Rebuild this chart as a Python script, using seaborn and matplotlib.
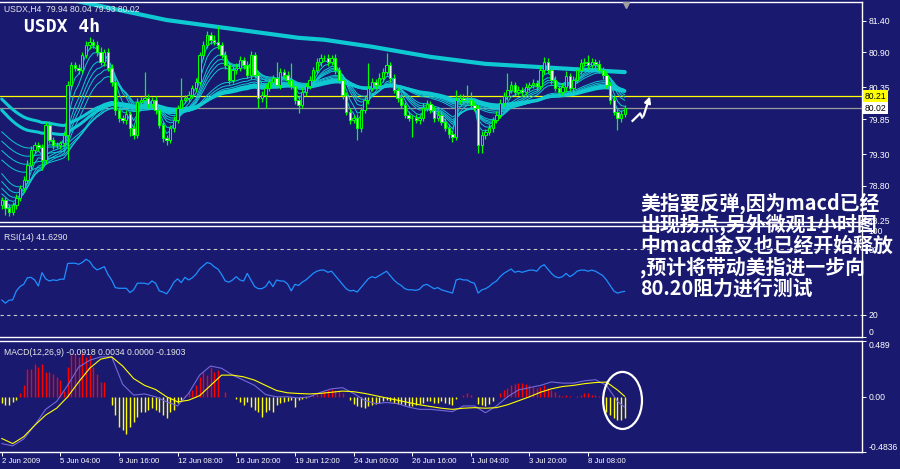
import numpy as np
import pandas as pd
import matplotlib
matplotlib.use("Agg")
import matplotlib.pyplot as plt
import matplotlib.transforms as mtransforms
from matplotlib.patches import Ellipse
import seaborn as sns

# ---------------- data (USDX, H4) ----------------
first_open = 78.50
closes = [
    78.58, 78.45, 78.39, 78.50, 78.61, 78.76, 78.89, 79.13, 79.36, 79.44,
    79.41, 79.21, 79.76, 79.52, 79.44, 79.44, 79.47, 79.60, 80.39, 80.70,
    80.66, 80.62, 80.86, 81.02, 81.06, 81.02, 80.91, 80.75, 80.91, 80.66,
    80.43, 79.99, 79.87, 79.84, 79.93, 79.71, 79.60, 80.12, 80.15, 80.18,
    80.09, 80.15, 79.99, 79.76, 79.55, 79.52, 79.71, 79.84, 80.03, 80.15,
    80.18, 80.23, 80.34, 80.43, 80.86, 81.02, 81.17, 81.10, 81.06, 81.02,
    80.86, 80.70, 80.47, 80.62, 80.66, 80.78, 80.70, 80.54, 80.86, 80.54,
    80.18, 80.23, 80.34, 80.43, 80.50, 80.39, 80.59, 80.54, 80.47, 80.37,
    80.15, 80.07, 80.28, 80.37, 80.47, 80.62, 80.75, 80.81, 80.81, 80.75,
    80.81, 80.62, 80.47, 80.23, 79.96, 79.84, 79.87, 79.71, 79.99, 80.15,
    80.34, 80.43, 80.39, 80.50, 80.59, 80.70, 80.50, 80.31, 80.18, 80.07,
    79.92, 79.87, 79.87, 79.84, 79.87, 80.03, 80.09, 79.99, 79.87, 79.92,
    79.81, 79.71, 79.62, 79.57, 80.15, 80.18, 80.15, 80.15, 80.07, 80.03,
    79.44, 79.60, 79.65, 79.71, 79.84, 79.92, 80.10, 80.21, 80.31, 80.39,
    80.28, 80.31, 80.28, 80.36, 80.39, 80.42, 80.37, 80.62, 80.75, 80.62,
    80.47, 80.34, 80.28, 80.36, 80.53, 80.34, 80.47, 80.62, 80.73, 80.75,
    80.70, 80.75, 80.72, 80.62, 80.54, 80.39, 80.15, 79.96, 79.87, 79.93,
    80.02,
]
hi_ext = [
    0.05, 0.04, 0.06, 0.05, 0.06, 0.05, 0.06, 0.07, 0.06, 0.05,
    0.05, 0.05, 0.04, 0.06, 0.05, 0.05, 0.04, 0.05, 0.06, 0.05,
    0.05, 0.06, 0.05, 0.06, 0.08, 0.05, 0.06, 0.08, 0.05, 0.06,
    0.05, 0.06, 0.05, 0.05, 0.06, 0.04, 0.05, 0.06, 0.05, 0.41,
    0.06, 0.05, 0.06, 0.05, 0.04, 0.05, 0.05, 0.06, 0.05, 0.35,
    0.05, 0.06, 0.05, 0.06, 0.05, 0.06, 0.07, 0.05, 0.08, 0.26,
    0.05, 0.06, 0.05, 0.06, 0.07, 0.06, 0.05, 0.07, 0.06, 0.05,
    0.05, 0.06, 0.07, 0.06, 0.05, 0.25, 0.06, 0.05, 0.06, 0.26,
    0.05, 0.06, 0.07, 0.05, 0.06, 0.05, 0.06, 0.07, 0.05, 0.06,
    0.05, 0.06, 0.05, 0.06, 0.05, 0.06, 0.05, 0.06, 0.05, 0.06,
    0.39, 0.06, 0.05, 0.07, 0.06, 0.19, 0.05, 0.06, 0.05, 0.06,
    0.05, 0.06, 0.05, 0.06, 0.05, 0.07, 0.06, 0.05, 0.06, 0.05,
    0.06, 0.05, 0.06, 0.05, 0.16, 0.06, 0.07, 0.24, 0.12, 0.06,
    0.05, 0.06, 0.05, 0.06, 0.05, 0.06, 0.07, 0.06, 0.26, 0.06,
    0.05, 0.06, 0.05, 0.06, 0.05, 0.06, 0.05, 0.07, 0.08, 0.06,
    0.05, 0.06, 0.05, 0.06, 0.07, 0.05, 0.06, 0.05, 0.06, 0.07,
    0.11, 0.06, 0.05, 0.06, 0.05, 0.06, 0.05, 0.06, 0.05, 0.06,
    0.06,
]
lo_ext = [
    0.06, 0.11, 0.06, 0.05, 0.06, 0.05, 0.06, 0.05, 0.07, 0.05,
    0.06, 0.16, 0.06, 0.05, 0.06, 0.05, 0.06, 0.05, 0.40, 0.06,
    0.05, 0.06, 0.05, 0.04, 0.06, 0.05, 0.06, 0.05, 0.06, 0.05,
    0.06, 0.08, 0.06, 0.05, 0.06, 0.12, 0.06, 0.05, 0.06, 0.05,
    0.06, 0.05, 0.06, 0.05, 0.06, 0.07, 0.05, 0.06, 0.05, 0.06,
    0.05, 0.06, 0.05, 0.06, 0.05, 0.06, 0.05, 0.06, 0.05, 0.06,
    0.05, 0.06, 0.07, 0.05, 0.06, 0.05, 0.06, 0.05, 0.06, 0.05,
    0.15, 0.06, 0.21, 0.05, 0.06, 0.05, 0.06, 0.05, 0.06, 0.05,
    0.06, 0.13, 0.05, 0.06, 0.05, 0.06, 0.05, 0.06, 0.05, 0.06,
    0.05, 0.06, 0.05, 0.06, 0.05, 0.06, 0.05, 0.19, 0.06, 0.05,
    0.06, 0.05, 0.06, 0.05, 0.06, 0.05, 0.06, 0.05, 0.06, 0.05,
    0.06, 0.05, 0.30, 0.05, 0.06, 0.05, 0.06, 0.05, 0.06, 0.05,
    0.06, 0.05, 0.06, 0.08, 0.05, 0.06, 0.05, 0.06, 0.05, 0.06,
    0.12, 0.12, 0.06, 0.05, 0.06, 0.05, 0.06, 0.05, 0.06, 0.05,
    0.06, 0.05, 0.06, 0.05, 0.06, 0.05, 0.06, 0.05, 0.06, 0.05,
    0.06, 0.05, 0.06, 0.05, 0.06, 0.05, 0.06, 0.05, 0.06, 0.05,
    0.06, 0.05, 0.06, 0.05, 0.06, 0.05, 0.06, 0.05, 0.19, 0.06,
    0.05,
]

# moving average fan (EMA periods) and their starting values at the left edge
fan_periods = [3, 5, 8, 10, 12, 15, 30, 35, 40, 45]
fan_seeds = [78.55, 78.60, 78.70, 78.80, 78.92, 79.05, 79.25, 79.40, 79.55, 79.70]
thick_periods = [50, 60]
thick_seeds = [80.05, 80.22]
# slow MA (top thick line), read at a few bars
slow_bars = [0, 22, 45, 81, 88, 101, 117, 132, 170]
slow_vals = [81.96, 81.69, 81.41, 81.13, 81.10, 80.99, 80.83, 80.72, 80.59]

rsi = [
    33.8, 30.8, 33.5, 33.8, 42.0, 46.0, 48.0, 54.0, 54.4, 52.0,
    46.5, 58.7, 53.0, 51.1, 52.1, 51.5, 52.7, 52.7, 67.0, 67.3,
    67.3, 66.3, 68.0, 70.9, 69.0, 64.0, 61.2, 62.5, 64.2, 57.0,
    52.0, 45.0, 44.4, 44.4, 44.4, 40.5, 43.0, 49.0, 49.1, 49.0,
    48.0, 51.1, 49.0, 42.0, 41.0, 39.3, 44.0, 50.0, 53.0, 49.6,
    54.4, 52.0, 54.0, 57.2, 62.0, 65.0, 67.9, 67.0, 64.0, 62.0,
    57.0, 51.1, 50.0, 52.0, 55.0, 52.0, 51.0, 58.0, 52.0, 46.0,
    44.1, 44.1, 45.9, 51.0, 45.9, 52.0, 51.1, 51.0, 48.4, 42.0,
    48.0, 47.0, 50.0, 52.0, 55.0, 58.0, 60.0, 61.0, 61.0, 59.0,
    60.0, 56.0, 52.0, 48.0, 44.0, 42.0, 42.5, 41.0, 45.0, 49.0,
    53.0, 55.0, 54.0, 56.0, 58.0, 60.0, 56.0, 52.0, 49.0, 47.0,
    44.0, 43.0, 43.0, 42.5, 43.5, 47.0, 48.0, 46.0, 44.0, 45.0,
    43.0, 42.0, 41.0, 40.0, 52.0, 53.0, 52.0, 52.0, 50.0, 49.0,
    40.0, 43.0, 44.0, 46.0, 49.0, 51.0, 55.0, 58.0, 60.0, 62.0,
    59.0, 60.0, 59.0, 60.0, 61.0, 61.0, 60.0, 64.0, 66.0, 62.0,
    58.0, 55.0, 54.0, 55.0, 58.0, 55.0, 57.0, 60.0, 61.0, 61.0,
    60.0, 61.0, 60.0, 58.0, 56.0, 52.0, 47.0, 42.0, 40.0, 41.0,
    41.63,
]

macd_hist = [
    -0.058, -0.073, -0.073, -0.044, -0.029, 0.029, 0.10, 0.24, 0.24, 0.29,
    0.26, 0.29, 0.22, 0.22, 0.20, 0.17, 0.15, 0.05, 0.26, 0.365,
    0.38, 0.35, 0.38, 0.35, 0.365, 0.26, 0.20, 0.13, 0.13, 0.0,
    -0.073, -0.161, -0.263, -0.292, -0.33, -0.263, -0.219, -0.175, -0.131, -0.131,
    -0.117, -0.102, -0.117, -0.131, -0.161, -0.19, -0.131, -0.117, -0.058, -0.029,
    0.015, 0.044, 0.058, 0.102, 0.175, 0.219, 0.19, 0.263, 0.219, 0.234,
    0.0, 0.044, 0.0, 0.0, -0.015, -0.044, -0.073, -0.044, -0.088, -0.117,
    -0.131, -0.175, -0.131, -0.117, -0.131, -0.073, -0.058, -0.044, -0.035, -0.029,
    -0.088, -0.03, -0.02, -0.01, 0.0, 0.015, 0.03, 0.04, 0.05, 0.06,
    0.07, 0.06, 0.05, 0.03, 0.0, -0.03, -0.06, -0.08, -0.09, -0.10,
    -0.08, -0.07, -0.06, -0.05, -0.04, -0.03, -0.04, -0.05, -0.06, -0.06,
    -0.07, -0.08, -0.08, -0.07, -0.06, -0.05, -0.04, -0.04, -0.05, -0.05,
    -0.04, -0.05, -0.06, -0.07, -0.02, 0.0, 0.02, 0.03, 0.02, 0.0,
    -0.06, -0.07, -0.08, -0.06, -0.04, 0.0, 0.03, 0.06, 0.08, 0.10,
    0.11, 0.12, 0.12, 0.11, 0.10, 0.09, 0.08, 0.09, 0.10, 0.08,
    0.06, 0.04, 0.02, 0.01, 0.02, 0.01, 0.0, 0.01, 0.02, 0.03,
    0.03, 0.02, 0.02, 0.01, 0.01, -0.13, -0.16, -0.19, -0.20, -0.20,
    -0.19,
]
macd_bars = list(range(0, 169, 3)) + [170]
macd_main = [
    -0.41, -0.43, -0.37, -0.25, -0.11, -0.04, 0.10, 0.26, 0.32, 0.35,
    0.35, 0.11, 0.015, 0.025, 0.0, -0.044, -0.08, 0.03, 0.19, 0.27,
    0.25, 0.19, 0.146, 0.10, 0.02, 0.0, 0.0, -0.01,
    0.0, 0.04, 0.07, 0.08, 0.03, -0.03, -0.06, -0.05, -0.06, -0.09,
    -0.11, -0.11, -0.12, -0.13, -0.08, -0.08, -0.14, -0.08, 0.0, 0.06,
    0.08, 0.10, 0.13, 0.12, 0.12, 0.14, 0.15, 0.10, -0.04, -0.0918,
]
macd_signal = [
    -0.365, -0.41, -0.35, -0.25, -0.16, -0.10, 0.0, 0.13, 0.25, 0.33,
    0.35, 0.27, 0.16, 0.10, 0.064, 0.0, -0.044, -0.03, 0.01, 0.10,
    0.19, 0.19, 0.175, 0.146, 0.10, 0.055, 0.035, 0.029,
    0.025, 0.03, 0.04, 0.05, 0.045, 0.03, 0.01, -0.01, -0.03, -0.05,
    -0.07, -0.085, -0.10, -0.11, -0.10, -0.095, -0.10, -0.095, -0.07, -0.035,
    0.0, 0.04, 0.07, 0.09, 0.10, 0.115, 0.125, 0.129, 0.06, 0.0034,
]

tick_bars = [0, 16, 32, 48, 64, 80, 96, 112, 128, 144, 160]
tick_labels = ["2 Jun 2009", "5 Jun 04:00", "9 Jun 16:00", "12 Jun 08:00",
               "16 Jun 20:00", "19 Jun 12:00", "24 Jun 00:00", "26 Jun 16:00",
               "1 Jul 04:00", "3 Jul 20:00", "8 Jul 08:00"]
price_ticks = [81.40, 80.90, 80.35, 79.85, 79.30, 78.80, 78.25]
bid_level = 80.21
last_level = 80.02

note_lines = ["美指要反弹,因为macd已经",
              "出现拐点,另外微观1小时图",
              "中macd金叉也已经开始释放",
              ",预计将带动美指进一步向",
              "80.20阻力进行测试"]

assert len(closes) == len(hi_ext) == len(lo_ext) == len(rsi) == len(macd_hist)
assert len(macd_bars) == len(macd_main) == len(macd_signal)

# ---------------- derived series ----------------
n = len(closes)
bars = np.arange(n)
opens = [first_open] + closes[:-1]
highs = [max(o, c) + h for o, c, h in zip(opens, closes, hi_ext)]
lows = [min(o, c) - l for o, c, l in zip(opens, closes, lo_ext)]


def ema(values, period, seed):
    k = 2.0 / (period + 1)
    e = seed
    out = []
    for v in values:
        e = e + k * (v - e)
        out.append(e)
    return out


fan = pd.concat([pd.DataFrame({"bar": bars, "val": ema(closes, p, s), "period": p})
                 for p, s in zip(fan_periods, fan_seeds)])
thick = pd.concat([pd.DataFrame({"bar": bars, "val": ema(closes, p, s), "period": p})
                   for p, s in zip(thick_periods, thick_seeds)])

# ---------------- styling ----------------
BG = "#191970"
CYAN = "#0FC9D2"
LIME = "#00FF00"
sns.set_theme(style="dark", rc={"axes.facecolor": BG, "figure.facecolor": BG,
                                "axes.grid": False, "axes.edgecolor": "white"})
plt.rcParams["font.family"] = ["Liberation Sans", "DejaVu Sans"]

fig = plt.figure(figsize=(9, 4.69), dpi=100)
W = 862 / 900
ax_p = fig.add_axes([0, 1 - 222 / 469, W, 220 / 469])
ax_r = fig.add_axes([0, 1 - 337 / 469, W, 111 / 469])
ax_m = fig.add_axes([0, 1 - 452 / 469, W, 111 / 469])
xmax = (862 - 1.7) / 3.665
for ax in (ax_p, ax_r, ax_m):
    ax.set_facecolor(BG)
    ax.set_xlim(-0.46, xmax)
    ax.grid(False)
    for side in ("top", "bottom", "right"):
        ax.spines[side].set_color("white")
        ax.spines[side].set_linewidth(1.0)
    ax.spines["left"].set_visible(False)
    ax.yaxis.tick_right()
    ax.tick_params(axis="y", colors="white", labelsize=6.2, length=3, width=0.7,
                   direction="out", pad=1.5, left=False, right=True)
    ax.tick_params(axis="x", bottom=False, labelbottom=False)

# ---- price panel ----
ax_p.set_ylim(78.23, 81.694)
ax_p.axhline(bid_level, color="#FFFF00", lw=0.9, zorder=1)
ax_p.axhline(last_level, color="#9A9A9A", lw=0.9, zorder=1)

sns.lineplot(data=fan, x="bar", y="val", hue="period", palette=[CYAN] * len(fan_periods),
             linewidth=0.7, legend=False, ax=ax_p, zorder=2)
sns.lineplot(data=thick, x="bar", y="val", hue="period", palette=[CYAN] * len(thick_periods),
             linewidth=2.2, legend=False, ax=ax_p, zorder=2)
sns.lineplot(x=slow_bars, y=slow_vals, color=CYAN, linewidth=3.0, ax=ax_p, zorder=2)

ax_p.vlines(bars, lows, highs, color=LIME, lw=0.9, zorder=3)
body_lo = [min(o, c) for o, c in zip(opens, closes)]
body_h = [abs(c - o) for o, c in zip(opens, closes)]
fills = [BG if c >= o else "white" for o, c in zip(opens, closes)]
ax_p.bar(bars, body_h, bottom=body_lo, width=0.64, color=fills, edgecolor=LIME,
         linewidth=0.75, zorder=4)

ax_p.set_yticks(price_ticks)
ax_p.set_yticklabels([f"{v:.2f}" for v in price_ticks])
ax_p.set_xlabel("")
ax_p.set_ylabel("")
tr = mtransforms.blended_transform_factory(ax_p.transAxes, ax_p.transData)
ax_p.text(1.003, bid_level, f"{bid_level:.2f}", transform=tr, fontsize=6.2, color="black",
          va="center", ha="left", bbox=dict(facecolor="#FFFF00", edgecolor="none", pad=1.2))
ax_p.text(1.003, last_level, f"{last_level:.2f}", transform=tr, fontsize=6.2, color="black",
          va="center", ha="left", bbox=dict(facecolor="white", edgecolor="none", pad=1.2))
ax_p.plot([170.3], [81.64], marker="v", color="#A0A0A0", ms=4.5, clip_on=False, zorder=6)

ax_p.text(0.005, 0.965, "USDX,H4  79.94 80.04 79.93 80.02", transform=ax_p.transAxes,
          fontsize=6.2, color="#E8E8E8", va="center", ha="left")
ax_p.text(0.028, 0.885, "USDX 4h", transform=ax_p.transAxes, fontsize=13,
          family="DejaVu Sans Mono", weight="bold", color="white", va="center", ha="left")

# hand-drawn zig-zag arrow
ax_p.plot([171.9, 174.2, 174.9], [79.81, 79.94, 79.86], color="white", lw=1.6,
          solid_capstyle="butt", zorder=6)
ax_p.annotate("", xy=(177.1, 80.25), xytext=(174.9, 79.86),
              arrowprops=dict(arrowstyle="-|>", color="white", lw=1.6,
                              mutation_scale=9), zorder=6)

# ---- RSI panel ----
ax_r.set_ylim(-0.1, 101.3)
for lvl in (80, 20):
    ax_r.axhline(lvl, color="#C8C8C8", lw=0.8, ls=(0, (3, 3)))
sns.lineplot(x=bars, y=rsi, color="#1E90FF", linewidth=0.9, ax=ax_r)
ax_r.set_yticks([100, 80, 20, 0])
ax_r.set_yticklabels(["100", "80", "20", "0"])
labs = ax_r.get_yticklabels()
labs[0].set_va("top")
labs[3].set_va("bottom")
ax_r.set_xlabel("")
ax_r.set_ylabel("")
ax_r.text(0.005, 0.9, "RSI(14) 41.6290", transform=ax_r.transAxes, fontsize=6.2,
          color="#E8E8E8", va="center", ha="left")

# ---- MACD panel ----
ax_m.set_ylim(-0.4837, 0.489)
hist_cols = ["#FF0000" if v > 0 else "#FFFF00" for v in macd_hist]
ax_m.vlines(bars, 0, macd_hist, colors=hist_cols, lw=1.0, zorder=2)
sns.lineplot(x=macd_bars, y=macd_main, color="#7468D8", linewidth=0.8, ax=ax_m, zorder=3)
sns.lineplot(x=macd_bars, y=macd_signal, color="#FFFF00", linewidth=0.8, ax=ax_m, zorder=3)
ax_m.add_patch(Ellipse((169.4, -0.032), width=10.6, height=0.50, fill=False,
                       edgecolor="white", lw=1.6, zorder=5))
ax_m.set_yticks([0.489, 0.0, -0.4836])
ax_m.set_yticklabels(["0.489", "0.00", "-0.4836"])
labs = ax_m.get_yticklabels()
labs[0].set_va("top")
labs[2].set_va("bottom")
ax_m.text(0.005, 0.9, "MACD(12,26,9) -0.0918 0.0034 0.0000 -0.1903", transform=ax_m.transAxes,
          fontsize=6.2, color="#E8E8E8", va="center", ha="left")

ax_m.set_xticks(tick_bars)
ax_m.set_xticklabels(tick_labels, ha="left")
ax_m.tick_params(axis="x", bottom=True, labelbottom=True, colors="white", labelsize=5.6,
                 length=3, width=0.7, direction="out", pad=1.5)
ax_m.set_xlabel("")
ax_m.set_ylabel("")

# ---- Chinese note ----
for k, line in enumerate(note_lines):
    fig.text(640 / 900, 1 - (203 + 21.3 * k) / 469, line, fontsize=14.3,
             family=["Noto Sans CJK SC", "DejaVu Sans"], weight="bold",
             color="white", va="center", ha="left")

fig.savefig("out.png", dpi=100, facecolor=BG)
